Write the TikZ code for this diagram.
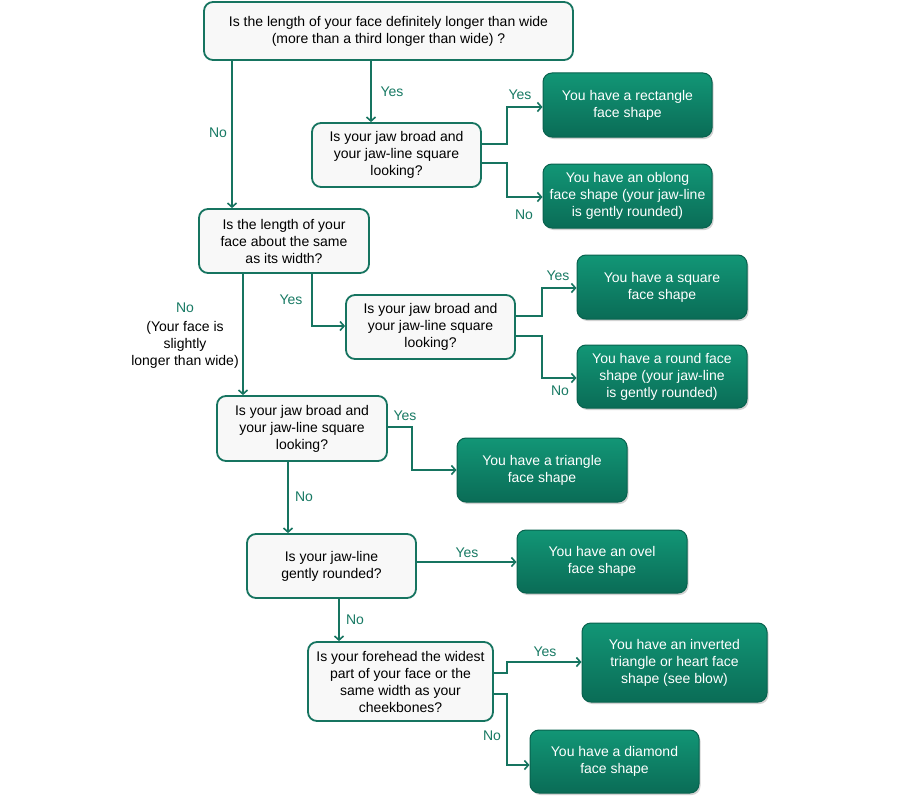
\documentclass[tikz,border=0pt]{standalone}
\usepackage{fontspec}
\setmainfont{Liberation Sans}
\usetikzlibrary{arrows.meta,shadows}
\definecolor{qborder}{RGB}{22,116,96}
\definecolor{qfill}{RGB}{248,248,248}
\definecolor{rtop}{RGB}{18,150,118}
\definecolor{rbot}{RGB}{10,108,86}
\definecolor{rborder}{RGB}{8,98,78}
\definecolor{linecol}{RGB}{22,116,96}
\definecolor{lblcol}{RGB}{24,122,100}
\newcommand{\dfont}{\fontsize{14}{17}\selectfont}
\begin{document}
\begin{tikzpicture}[x=1pt,y=-1pt,
  qbox/.style={draw=qborder, line width=1.8pt, fill=qfill, rounded corners=9pt,
    align=center, font=\dfont, inner sep=0pt},
  rbox/.style={draw=rborder, line width=1pt, top color=rtop, bottom color=rbot,
    rounded corners=9pt, text=white, align=center, font=\dfont, inner sep=0pt,
    drop shadow={shadow xshift=1.5pt, shadow yshift=-2pt, opacity=0.35}},
  lbl/.style={text=lblcol, font=\dfont, inner sep=0pt},
  arr/.style={draw=linecol, line width=1.6pt, -{Straight Barb[length=4pt,width=9pt]}}]
\useasboundingbox (0,0) rectangle (900,800);
\fill[white] (0,0) rectangle (900,800);

% questions
\node[qbox, minimum width=369pt, minimum height=58pt] (Q1) at (388.5,31)
  {Is the length of your face definitely longer than wide\\(more than a third longer than wide) ?};
\node[qbox, minimum width=169pt, minimum height=64pt] (Q2) at (396.5,155)
  {Is your jaw broad and\\your jaw-line square\\looking?};
\node[qbox, minimum width=170pt, minimum height=64pt] (Q3) at (284,241)
  {Is the length of your\\face about the same\\as its width?};
\node[qbox, minimum width=169pt, minimum height=64pt] (Q4) at (430.5,327)
  {Is your jaw broad and\\your jaw-line square\\looking?};
\node[qbox, minimum width=170pt, minimum height=65pt] (Q5) at (302,428.5)
  {Is your jaw broad and\\your jaw-line square\\looking?};
\node[qbox, minimum width=169pt, minimum height=64pt] (Q6) at (331.5,566)
  {Is your jaw-line\\gently rounded?};
\node[qbox, minimum width=185pt, minimum height=79pt] (Q7) at (400.5,681.5)
  {Is your forehead the widest\\part of your face or the\\same width as your\\cheekbones?};

% results
\node[rbox, minimum width=169pt, minimum height=64pt] (R1) at (627.5,105)
  {You have a rectangle\\face shape};
\node[rbox, minimum width=169pt, minimum height=64pt] (R2) at (627.5,196)
  {You have an oblong\\face shape (your jaw-line\\is gently rounded)};
\node[rbox, minimum width=170pt, minimum height=64pt] (R3) at (662,287)
  {You have a square\\face shape};
\node[rbox, minimum width=170pt, minimum height=63pt] (R4) at (662,376.5)
  {You have a round face\\shape (your jaw-line\\is gently rounded)};
\node[rbox, minimum width=170pt, minimum height=64pt] (R5) at (542,470)
  {You have a triangle\\face shape};
\node[rbox, minimum width=170pt, minimum height=63pt] (R6) at (602,561.5)
  {You have an ovel\\face shape};
\node[rbox, minimum width=185pt, minimum height=79pt] (R7) at (674.5,662.5)
  {You have an inverted\\triangle or heart face\\shape (see blow)};
\node[rbox, minimum width=169pt, minimum height=63pt] (R8) at (614.5,761.5)
  {You have a diamond\\face shape};

% connectors
\draw[arr] (Q1.south -| 371,0) -- (Q2.north -| 371,0);
\draw[arr] (Q1.south -| 232,0) -- (Q3.north -| 232,0);
\draw[arr] (Q2.east |- 0,144) -- (507,144) -- (507,107) -- (R1.west |- 0,107);
\draw[arr] (Q2.east |- 0,163) -- (507,163) -- (507,197) -- (R2.west |- 0,197);
\draw[arr] (Q3.south -| 243,0) -- (Q5.north -| 243,0);
\draw[arr] (Q3.south -| 312,0) -- (312,326) -- (Q4.west |- 0,326);
\draw[arr] (Q4.east |- 0,316) -- (542,316) -- (542,288) -- (R3.west |- 0,288);
\draw[arr] (Q4.east |- 0,336) -- (542,336) -- (542,378) -- (R4.west |- 0,378);
\draw[arr] (Q5.east |- 0,427) -- (412,427) -- (412,470) -- (R5.west |- 0,470);
\draw[arr] (Q5.south -| 288,0) -- (Q6.north -| 288,0);
\draw[arr] (Q6.east |- 0,562) -- (R6.west |- 0,562);
\draw[arr] (Q6.south -| 339,0) -- (Q7.north -| 339,0);
\draw[arr] (Q7.east |- 0,673) -- (507,673) -- (507,662) -- (R7.west |- 0,662);
\draw[arr] (Q7.east |- 0,694) -- (507,694) -- (507,765) -- (R8.west |- 0,765);

% labels
\node[lbl] (l1) at (392,92) {Yes};
\node[lbl] (l2) at (218,133) {No};
\node[lbl] (l3) at (520,95) {Yes};
\node[lbl] (l4) at (524,215) {No};
\node[lbl] (l5) at (185,308) {No};
\node[font=\dfont, align=center, inner sep=0pt] (l5b) at (185,345)
  {(Your face is\\slightly\\longer than wide)};
\node[lbl] (l6) at (291,300) {Yes};
\node[lbl] (l7) at (558,276) {Yes};
\node[lbl] (l8) at (560,391) {No};
\node[lbl] (l9) at (405,416) {Yes};
\node[lbl] (l10) at (304,497) {No};
\node[lbl] (l11) at (467,553) {Yes};
\node[lbl] (l12) at (355,620) {No};
\node[lbl] (l13) at (545,652) {Yes};
\node[lbl] (l14) at (492,736) {No};
\end{tikzpicture}
\end{document}
